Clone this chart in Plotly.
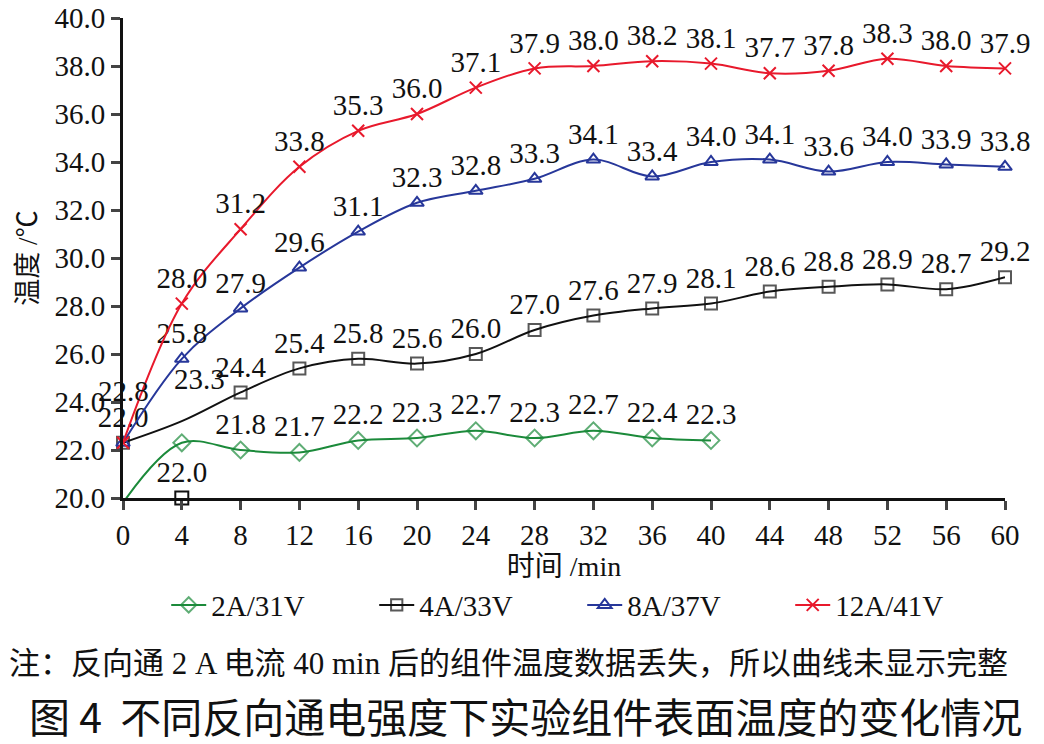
import plotly.graph_objects as go

# time in minutes
t_all = [0, 4, 8, 12, 16, 20, 24, 28, 32, 36, 40, 44, 48, 52, 56, 60]
t_2a = [0, 4, 8, 12, 16, 20, 24, 28, 32, 36, 40]

# surface temperature (deg C)
temp_2a = [19.8, 22.3, 22.0, 21.9, 22.4, 22.5, 22.8, 22.5, 22.8, 22.5, 22.4]
temp_4a = [22.3, 23.2, 24.4, 25.4, 25.8, 25.6, 26.0, 27.0, 27.6, 27.9, 28.1, 28.6, 28.8, 28.9, 28.7, 29.2]
temp_8a = [22.3, 25.8, 27.9, 29.6, 31.1, 32.3, 32.8, 33.3, 34.1, 33.4, 34.0, 34.1, 33.6, 34.0, 33.9, 33.8]
temp_12a = [22.3, 28.1, 31.2, 33.8, 35.3, 36.0, 37.1, 37.9, 38.0, 38.2, 38.1, 37.7, 37.8, 38.3, 38.0, 37.9]

# point labels as printed on the chart
lab_2a = ["", "", "21.8", "21.7", "22.2", "22.3", "22.7", "22.3", "22.7", "22.4", "22.3"]
lab_4a = ["22.0", "", "24.4", "25.4", "25.8", "25.6", "26.0", "27.0", "27.6", "27.9", "28.1", "28.6", "28.8", "28.9", "28.7", "29.2"]
lab_8a = ["", "25.8", "27.9", "29.6", "31.1", "32.3", "32.8", "33.3", "34.1", "33.4", "34.0", "34.1", "33.6", "34.0", "33.9", "33.8"]
lab_12a = ["", "28.0", "31.2", "33.8", "35.3", "36.0", "37.1", "37.9", "38.0", "38.2", "38.1", "37.7", "37.8", "38.3", "38.0", "37.9"]

# labels floated higher than the rest (origin is crowded)
lab_8a_start = "22.8"
lab_4a_t4 = "23.3"

# stray 4A point drawn on the axis in the original
stray_t = [4]
stray_temp = [20.0]
stray_lab = ["22.0"]

SERIF = "Liberation Serif"
CJK = "Liberation Serif, Noto Sans CJK SC"
num_font = dict(family=SERIF, size=29, color="#111")

fig = go.Figure()


def add_series(name, x, y, labels, color, symbol, msize, sizes=None):
    fig.add_trace(go.Scatter(
        x=x, y=y, name=name, mode="lines+markers+text",
        text=labels, textposition="top center", textfont=num_font,
        line=dict(color=color, width=2, shape="spline", smoothing=1),
        marker=dict(symbol=symbol, size=sizes if sizes else msize, color=color,
                    line=dict(color=color, width=2)),
        cliponaxis=False,
    ))


add_series("2A/31V", t_2a, temp_2a, lab_2a, "#1b8a3a", "diamond-open", 13,
           sizes=[0] + [13] * (len(t_2a) - 1))
add_series("4A/33V", t_all, temp_4a, lab_4a, "#111111", "square-open", 12,
           sizes=[12, 0] + [12] * 14)
add_series("8A/37V", t_all, temp_8a, lab_8a, "#27379a", "triangle-up-open", 12)
add_series("12A/41V", t_all, temp_12a, lab_12a, "#e8192c", "x-thin-open", 12)

fig.add_trace(go.Scatter(
    x=stray_t, y=stray_temp, mode="markers+text", text=stray_lab,
    textposition="top center", textfont=num_font, showlegend=False,
    marker=dict(symbol="square-open", size=13, color="#111", line=dict(color="#111", width=2)),
    cliponaxis=False,
))

fig.add_annotation(x=t_all[0], y=temp_8a[0], text=lab_8a_start, showarrow=False,
                   yshift=52, font=num_font)
fig.add_annotation(x=t_all[1], y=temp_4a[1], text=lab_4a_t4, showarrow=False,
                   xshift=18, yshift=42, font=num_font)

fig.update_xaxes(
    range=[0, 60], tickvals=t_all, ticks="outside", ticklen=9, tickwidth=3,
    showline=True, linewidth=3, linecolor="#111", showgrid=False, zeroline=False,
    tickfont=num_font, automargin=False, ticklabeloverflow="allow",
    title=dict(text="时间 /min", font=dict(family=CJK, size=28, color="#111"), standoff=3),
)
fig.update_yaxes(
    range=[20, 40], dtick=2, tickformat=".1f", ticks="outside", ticklen=9, tickwidth=3,
    showline=True, linewidth=3, linecolor="#111", showgrid=False, zeroline=False,
    tickfont=num_font, automargin=False, ticklabeloverflow="allow",
    title=dict(text="温度 /℃", font=dict(family=CJK, size=27, color="#111"), standoff=10),
)

fig.add_annotation(xref="paper", yref="paper", x=-0.131, y=-0.344, xanchor="left", yanchor="middle",
                   text="注：反向通 2 A 电流 40 min 后的组件温度数据丢失，所以曲线未显示完整",
                   showarrow=False, font=dict(family=CJK, size=31, color="#111"))
fig.add_annotation(xref="paper", yref="paper", x=0.456, y=-0.452, xanchor="center", yanchor="middle",
                   text="图 4  不同反向通电强度下实验组件表面温度的变化情况",
                   showarrow=False, font=dict(family="Noto Sans CJK SC", size=41, color="#111"))

# page body adds an 8px margin, so the figure is 8px smaller each way
fig.update_layout(
    width=1036, height=736,
    margin=dict(l=115, r=39, t=10, b=246, autoexpand=False),
    paper_bgcolor="white", plot_bgcolor="white",
    showlegend=True,
    legend=dict(orientation="h", x=0.049, y=-0.223, xanchor="left", yanchor="middle",
                entrywidth=158, entrywidthmode="pixels", itemwidth=35,
                font=dict(family=SERIF, size=29, color="#111")),
)

fig.write_html("out.html")
